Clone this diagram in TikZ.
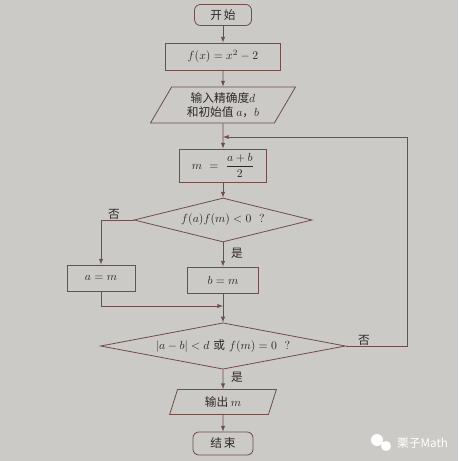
\documentclass[tikz,border=0pt]{standalone}
\usepackage{fontspec}
\usepackage{amsmath}
\newfontfamily\cjk{Noto Sans CJK SC}
\usetikzlibrary{shapes.geometric}
\definecolor{paper}{RGB}{203,202,198}
\definecolor{ink}{RGB}{112,78,74}
\definecolor{txt}{RGB}{48,40,40}

\begin{document}
\begin{tikzpicture}[x=0.03cm, y=-0.03cm, >=latex,
  line/.style={draw=ink, line width=0.7pt},
  box/.style={line, rectangle, inner sep=0pt, text=txt},
  term/.style={box, rounded corners=5pt},
  io/.style={line, trapezium, inner sep=0pt, text=txt, trapezium stretches body},
  test/.style={line, diamond, inner sep=0pt, text=txt, aspect=4},
  lbl/.style={font=\cjk, text=txt}]
\fill[paper] (0,0) rectangle (458,461);
\useasboundingbox (0,0) rectangle (458,461);

\node[term, minimum width=1.71cm, minimum height=0.63cm] (start) at (223,15) {\cjk 开\,始};
\node[box, minimum width=3.45cm, minimum height=0.81cm] (fx) at (223,56.5) {$f(x)=x^2-2$};
\node[io, trapezium left angle=50, trapezium right angle=130,
  minimum width=4.35cm, minimum height=1.08cm, align=center] (input) at (223,105)
  {\cjk 输入精确度$d$\\ \cjk 和初始值 $a$，$b$};
\node[box, minimum width=2.61cm, minimum height=0.99cm] (mbox) at (223,165.5) {$m\ =\ \dfrac{a+b}{2}$};
\node[test, minimum width=5.34cm, minimum height=1.32cm] (d1) at (223,220) {$f(a)f(m)<0$\ \ ?};
\node[box, minimum width=2.04cm, minimum height=0.78cm] (abox) at (101,278) {$a=m$};
\node[box, minimum width=2.13cm, minimum height=0.78cm] (bbox) at (223,280) {$b=m$};
\node[test, minimum width=7.35cm, minimum height=1.32cm] (d2) at (223,346)
  {$|a-b|<d$ {\cjk 或} $f(m)=0$\ \ ?};
\node[io, trapezium left angle=54, trapezium right angle=126,
  minimum width=3.2cm, minimum height=0.75cm] (output) at (223,402) {\cjk 输出 \normalfont$m$};
\node[term, minimum width=1.8cm, minimum height=0.69cm] (end) at (223,443.5) {\cjk 结\,束};

\coordinate (join) at (223,306);
\coordinate (back) at (223,137);
\coordinate (rgt) at (407,137);

\draw[line,->] (start) -- (fx);
\draw[line,->] (fx) -- (input);
\draw[line,->] (input) -- (mbox);
\draw[line,->] (mbox) -- (d1);
\draw[line,->] (d1.west) -| (abox);
\draw[line,->] (d1) -- (bbox);
\draw[line,->] (abox) |- (join);
\draw[line,->] (bbox) -- (d2);
\draw[line,->] (d2) -- (output);
\draw[line,->] (output) -- (end);
\draw[line,->] (d2.east) -| (rgt) -- (back);

\node[lbl] (no1) at (114,214) {否};
\node[lbl] (yes1) at (237,253) {是};
\node[lbl] (no2) at (364,340) {否};
\node[lbl] (yes2) at (237,377) {是};

% watermark
\fill[white] (377,440) circle (6) (386,446) circle (5);
\node[font=\cjk, text=white, anchor=west] (mark) at (393,443) {栗子Math};
\end{tikzpicture}
\end{document}
